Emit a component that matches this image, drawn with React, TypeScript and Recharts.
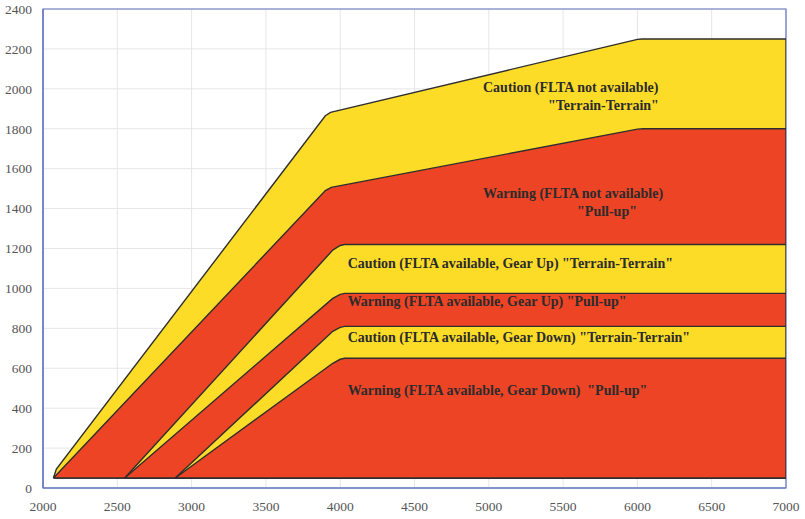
import React from 'react';
import { ComposedChart, Area, XAxis, YAxis, CartesianGrid, ReferenceArea, ReferenceDot } from 'recharts';

const xTicks = [2000, 2500, 3000, 3500, 4000, 4500, 5000, 5500, 6000, 6500, 7000];
const yTicks = [0, 200, 400, 600, 800, 1000, 1200, 1400, 1600, 1800, 2000, 2200, 2400];

// Each envelope is a closed outline (x = mode-2 distance, y = height)
const cautionNoFlta = [
  { x: 2070, y: 50 }, { x: 2090, y: 95 }, { x: 3900, y: 1865 }, { x: 3935, y: 1882 },
  { x: 6000, y: 2248 }, { x: 6030, y: 2250 }, { x: 7000, y: 2250 }, { x: 7000, y: 50 }, { x: 2070, y: 50 },
];
const warningNoFlta = [
  { x: 2070, y: 50 }, { x: 3900, y: 1490 }, { x: 3940, y: 1506 },
  { x: 6000, y: 1798 }, { x: 6040, y: 1800 }, { x: 7000, y: 1800 }, { x: 7000, y: 50 }, { x: 2070, y: 50 },
];
const cautionGearUp = [
  { x: 2550, y: 50 }, { x: 3950, y: 1192 }, { x: 4000, y: 1215 }, { x: 4030, y: 1220 },
  { x: 7000, y: 1220 }, { x: 7000, y: 50 }, { x: 2550, y: 50 },
];
const warningGearUp = [
  { x: 2550, y: 50 }, { x: 3950, y: 950 }, { x: 4000, y: 970 }, { x: 4030, y: 975 },
  { x: 7000, y: 975 }, { x: 7000, y: 50 }, { x: 2550, y: 50 },
];
const cautionGearDown = [
  { x: 2890, y: 50 }, { x: 3950, y: 785 }, { x: 4000, y: 805 }, { x: 4030, y: 810 },
  { x: 7000, y: 810 }, { x: 7000, y: 50 }, { x: 2890, y: 50 },
];
const warningGearDown = [
  { x: 2890, y: 50 }, { x: 3950, y: 625 }, { x: 4000, y: 645 }, { x: 4030, y: 650 },
  { x: 7000, y: 650 }, { x: 7000, y: 50 }, { x: 2890, y: 50 },
];

const annotationTexts = [
  'Caution (FLTA not available)',
  '"Terrain-Terrain"',
  'Warning (FLTA not available)',
  '"Pull-up"',
  'Caution (FLTA available, Gear Up) "Terrain-Terrain"',
  'Warning (FLTA available, Gear Up) "Pull-up"',
  'Caution (FLTA available, Gear Down) "Terrain-Terrain"',
  'Warning (FLTA available, Gear Down)  "Pull-up"',
];
const annotationX = [4961, 5398, 4961, 5594, 4050, 4050, 4050, 4050];
const annotationY = [2007, 1918, 1478, 1384, 1126, 932, 756, 491];

const YELLOW = '#fddc28';
const RED = '#ee4426';
const EDGE = '#2e2e2e';
const AXIS = '#6272c2';
const SERIF = 'Liberation Serif, Times New Roman, serif';

const series = [
  { data: cautionNoFlta, fill: YELLOW },
  { data: warningNoFlta, fill: RED },
  { data: cautionGearUp, fill: YELLOW },
  { data: warningGearUp, fill: RED },
  { data: cautionGearDown, fill: YELLOW },
  { data: warningGearDown, fill: RED },
];

const tickStyle = { fontFamily: SERIF, fontSize: 13.5, fill: '#555' };

export default function App() {
  return (
    <div style={{ position: 'absolute', left: 0, top: 0, fontFamily: SERIF }}>
      <ComposedChart width={805} height={519} margin={{ top: 9, right: 19, bottom: 0, left: 0 }}>
        <CartesianGrid stroke="#e6e6e6" vertical horizontal />
        <XAxis
          type="number"
          dataKey="x"
          domain={[2000, 7000]}
          ticks={xTicks}
          allowDataOverflow
          height={31}
          tickSize={0}
          tickMargin={13}
          tickLine={false}
          axisLine={{ stroke: AXIS, strokeWidth: 1.2 }}
          tick={tickStyle}
        />
        <YAxis
          type="number"
          dataKey="y"
          domain={[0, 2400]}
          ticks={yTicks}
          allowDataOverflow
          width={43}
          tickSize={0}
          tickMargin={11}
          tickLine={false}
          axisLine={{ stroke: AXIS, strokeWidth: 1.2 }}
          tick={tickStyle}
        />
        <ReferenceArea x1={2000} x2={7000} y1={0} y2={2400} fill="none" stroke={AXIS} strokeWidth={1.2} ifOverflow="visible" />
        {series.map((s, i) => (
          <Area
            key={i}
            data={s.data}
            dataKey="y"
            type="linear"
            baseValue={50}
            fill={s.fill}
            fillOpacity={1}
            stroke={EDGE}
            strokeWidth={1.4}
            isAnimationActive={false}
            dot={false}
            activeDot={false}
          />
        ))}
        {annotationTexts.map((t, i) => (
          <ReferenceDot
            key={'a' + i}
            x={annotationX[i]}
            y={annotationY[i]}
            r={0}
            fill="none"
            stroke="none"
            label={(props: any) => {
              const vb = props.viewBox || {};
              return (
                <text
                  x={vb.x}
                  y={vb.y}
                  dominantBaseline="central"
                  textAnchor="start"
                  style={{ whiteSpace: 'pre', fontFamily: SERIF }}
                  fontWeight="bold"
                  fontSize={14}
                  fill="#2b2b2b"
                >
                  {t}
                </text>
              );
            }}
          />
        ))}
      </ComposedChart>
    </div>
  );
}
